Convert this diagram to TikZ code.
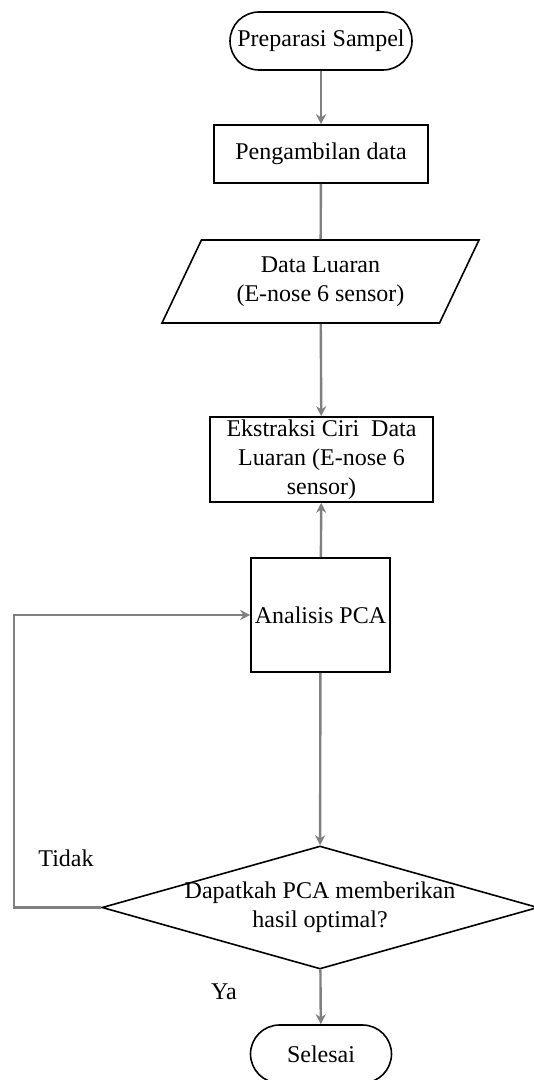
\documentclass[tikz,border=0pt]{standalone}
\usepackage{fontspec}
\setmainfont{Liberation Serif}
\usetikzlibrary{shapes.geometric,arrows.meta}

\begin{document}
\begin{tikzpicture}[x=0.5pt,y=-0.5pt,
  every node/.style={font=\fontsize{12}{14.5}\selectfont},
  startstop/.style={draw,line width=0.8pt,rounded corners=14.5pt,minimum height=29pt,inner sep=0pt},
  procbox/.style={draw,line width=0.8pt,inner sep=0pt,align=center},
  iobox/.style={draw,line width=0.8pt,trapezium,trapezium left angle=63.7,trapezium right angle=116.3,
    trapezium stretches body,minimum width=158.5pt,minimum height=41.5pt,align=center,
    inner xsep=0pt,inner ysep=7.5pt},
  decbox/.style={draw,diamond,line width=0.8pt,minimum width=218pt,minimum height=61.5pt,inner sep=0pt},
  flow/.style={draw=gray,line width=1.2pt,-{Stealth[length=5pt,width=5pt]}}]
        \useasboundingbox (0,0) rectangle (534,1080);
        
        \node[startstop,minimum width=91pt] (mulai) at (321,41) {Preparasi Sampel};
        \node[procbox,minimum width=107pt,minimum height=29pt] (ambil) at (321,154) {Pengambilan data};
        \node[iobox] (luaran) at (320.5,281.5) {Data Luaran\\(E-nose 6 sensor)};
        \node[procbox,minimum width=111.5pt,minimum height=42.5pt] (ciri) at (321.5,459.5) {Ekstraksi Ciri~ Data\\Luaran (E-nose 6\\sensor)};
        \node[procbox,minimum width=69.5pt,minimum height=57pt] (pca) at (320.5,615) {Analisis PCA};
        \node[decbox] (cek) at (320,907.5) {};
        \node[align=center] (cektxt) at (cek) {Dapatkah PCA memberikan\\hasil optimal?};
        \node[startstop,minimum width=70.5pt] (selesai) at (321,1054) {Selesai};
        \node (tidak) at (66,858) {Tidak};
        \node (ya) at (224,992) {Ya};
        \coordinate (balik) at (14,907.5);
        
        \draw[flow] (mulai) -- (ambil);
        \draw[flow,-] (ambil) -- (luaran);
        \draw[flow] (luaran) -- (ciri);
        \draw[flow] (pca) -- (ciri);
        \draw[flow] (pca) -- (cek);
        \draw[flow] (cek) -- (selesai);
        \draw[flow] (cek.west) -- (balik) |- (pca.west);
    \end{tikzpicture}
\end{document}
